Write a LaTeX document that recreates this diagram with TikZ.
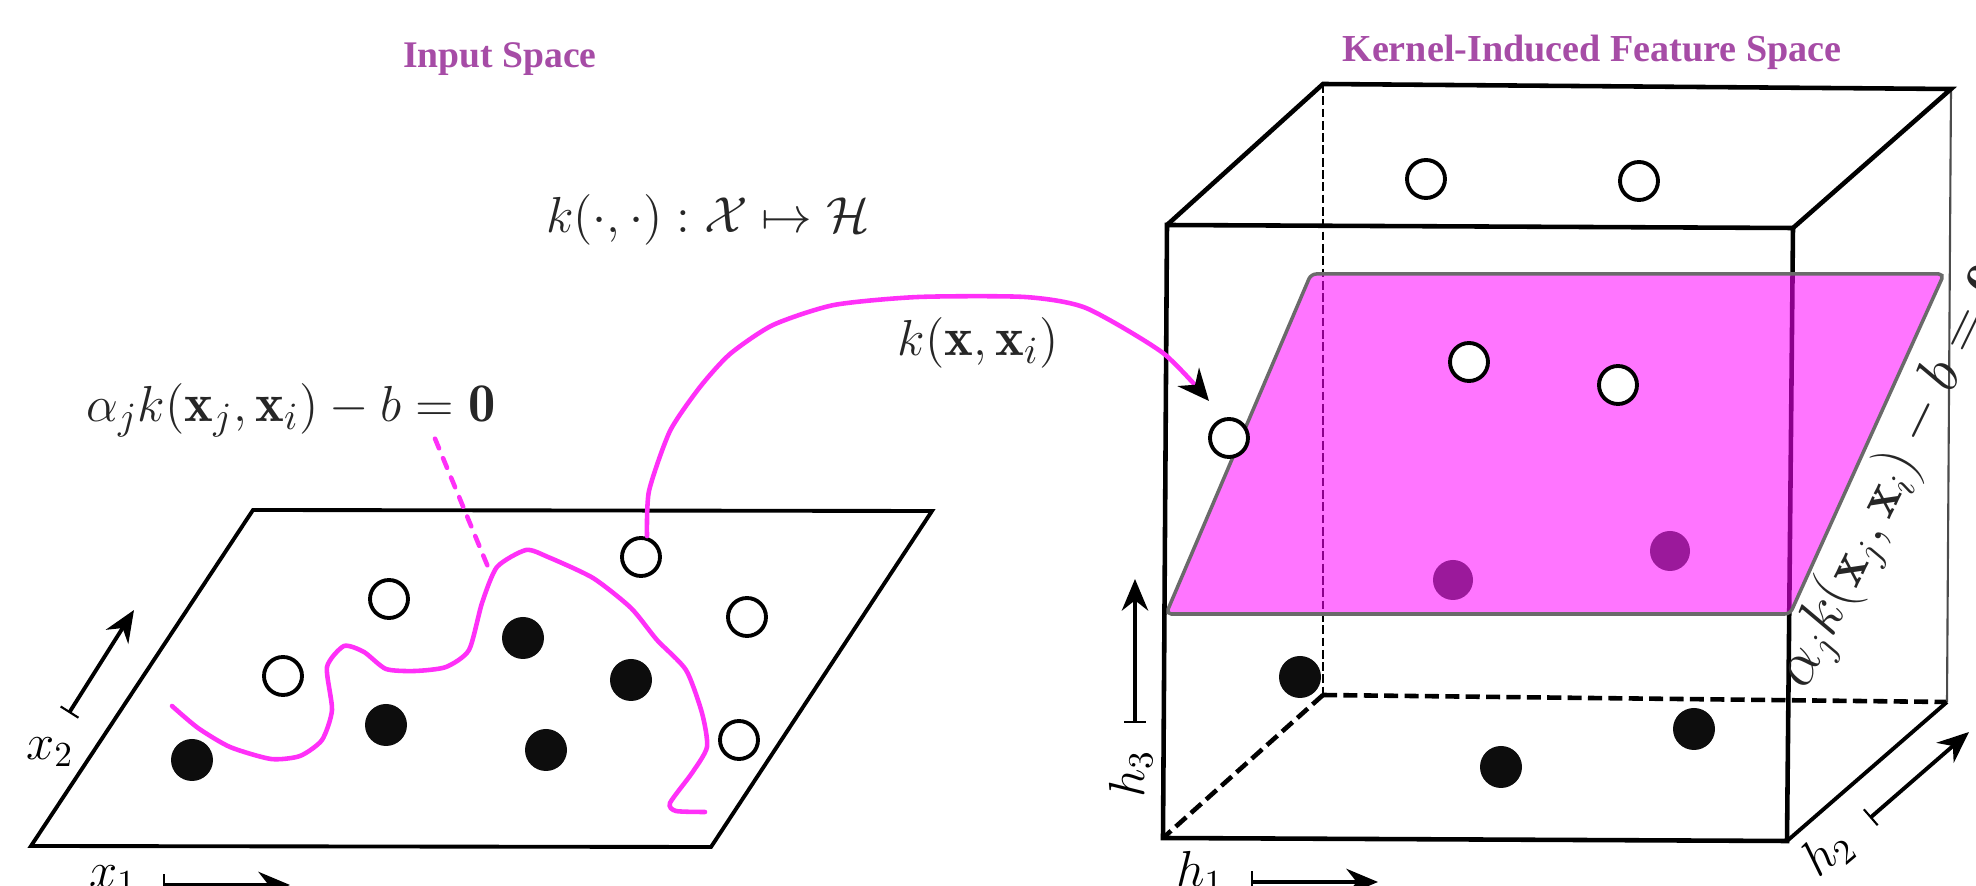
\documentclass[tikz,border=0pt]{standalone}
\usepackage{amsmath,amssymb,xcolor,fontspec}
\usetikzlibrary{arrows.meta}
\newfontfamily\titlefont{Liberation Serif}
\definecolor{titlepurple}{HTML}{A64CA6}
\definecolor{curvemag}{HTML}{FF30F8}
\definecolor{planemag}{RGB}{255,0,255}
\definecolor{planeedge}{HTML}{6A6A6A}
\definecolor{dimdot}{HTML}{9B199B}
\tikzset{
  opendot/.style={circle,draw=black,line width=1.1pt,fill=white,inner sep=0pt,minimum size=0.38cm},
  soliddot/.style={circle,fill=black!95,inner sep=0pt,minimum size=0.42cm},
  planedot/.style={circle,fill=dimdot,inner sep=0pt,minimum size=0.40cm},
  titlelabel/.style={text=titlepurple,font=\titlefont\bfseries\fontsize{10.7}{12}\selectfont},
  axislabel/.style={inner sep=0pt,font=\fontsize{14}{16}\selectfont},
  mathlabel/.style={inner sep=0pt,text=black!85,font=\fontsize{15.5}{18}\selectfont},
  axisarrow/.style={line width=1.1pt,{Bar[width=6pt,line width=0.6pt]}-{Stealth[length=9pt,width=7.5pt]}},
  kcurve/.style={curvemag,line width=1.3pt,line cap=round},
  backedge/.style={line width=1.3pt,dash pattern=on 4pt off 1.8pt},
}
\begin{document}
\begin{tikzpicture}[line width=1.1pt]
\useasboundingbox (0,0) rectangle (19.76,8.86);
% input plane
\draw (2.53,3.76)--(9.32,3.75)--(7.11,0.39)--(0.31,0.40)--cycle;
\node[opendot] (o1) at (6.41,3.29) {};
\node[opendot] (o2) at (3.89,2.87) {};
\node[opendot] (o3) at (2.83,2.10) {};
\node[opendot] (o4) at (7.47,2.69) {};
\node[opendot] (o5) at (7.39,1.46) {};
\node[soliddot] (f1) at (1.92,1.26) {};
\node[soliddot] (f2) at (3.86,1.61) {};
\node[soliddot] (f3) at (5.23,2.48) {};
\node[soliddot] (f4) at (6.31,2.06) {};
\node[soliddot] (f5) at (5.46,1.36) {};
\draw[kcurve] plot[smooth,tension=0.4] coordinates {(1.72,1.80) (1.98,1.58) (2.30,1.39) (2.71,1.27) (3.00,1.30) (3.22,1.46) (3.32,1.76) (3.27,2.19) (3.44,2.40) (3.64,2.34) (3.86,2.17) (4.15,2.15) (4.46,2.19) (4.69,2.36) (4.82,2.83) (4.97,3.19) (5.26,3.36) (5.48,3.29) (5.93,3.08) (6.31,2.78) (6.57,2.46) (6.86,2.16) (7.02,1.73) (7.07,1.39) (6.92,1.13) (6.70,0.83) (6.76,0.75) (7.05,0.74)};
\draw[axisarrow] (0.69,1.73)--(1.34,2.76);
\node[axislabel] (x2) at (0.50,1.34) {$x_2$};
\node[axislabel] (x1) at (1.13,0.06) {$x_1$};
\draw[axisarrow] (1.63,0.01)--(2.90,0.01);
% feature box
\draw[line width=0.5pt,dash pattern=on 2.5pt off 1pt] (13.23,8.02)--(13.23,1.91);
\draw[backedge] (13.23,1.91)--(19.47,1.84);
\draw[backedge] (13.23,1.91)--(11.63,0.48);
\draw[line width=0.6pt,black!70] (19.51,7.97)--(19.47,1.84);
\draw[line width=1.3pt] (11.67,6.61)--(13.23,8.02)--(19.51,7.97)--(17.93,6.58);
\draw[line width=1.3pt] (11.67,6.61)--(17.93,6.58)--(17.87,0.45)--(11.63,0.48)--cycle;
\draw[line width=1.1pt] (17.87,0.45)--(19.47,1.84);
\node[soliddot] (f6) at (13.00,2.09) {};
\node[soliddot] (f7) at (16.94,1.57) {};
\node[soliddot] (f8) at (15.01,1.19) {};
% separating plane
\draw[draw=planeedge,line width=1pt,fill=planemag,fill opacity=0.54,rounded corners=1.5pt] (13.11,6.12)--(19.44,6.12)--(17.90,2.72)--(11.66,2.72)--cycle;
\node[planedot] (p1) at (14.53,3.06) {};
\node[planedot] (p2) at (16.70,3.35) {};
\node[opendot] (o6) at (14.26,7.07) {};
\node[opendot] (o7) at (16.39,7.05) {};
\node[opendot] (o8) at (14.69,5.24) {};
\node[opendot] (o9) at (16.18,5.01) {};
\node[opendot] (o10) at (12.29,4.48) {};
\draw[axisarrow] (11.35,1.63)--(11.35,3.07);
\node[axislabel,rotate=90] (h3) at (11.31,1.12) {$h_3$};
\node[axislabel] (h1) at (12.00,0.13) {$h_1$};
\draw[axisarrow] (12.51,0.04)--(13.78,0.04);
\draw[axisarrow] (18.70,0.68)--(19.69,1.54);
\node[axislabel,rotate=40] (h2) at (18.28,0.33) {$h_2$};
% labels
\node[titlelabel] (inp) at (5.00,8.27) {Input Space};
\node[titlelabel,font=\titlefont\bfseries\fontsize{10.85}{12}\selectfont] (feat) at (15.92,8.34) {Kernel-Induced Feature Space};
\node[mathlabel,font=\fontsize{15.1}{18}\selectfont] (kmap) at (7.08,6.66) {$k(\cdot,\cdot):\mathcal{X}\mapsto\mathcal{H}$};
\node[mathlabel] (kx) at (9.78,5.43) {$k(\mathbf{x},\mathbf{x}_i)$};
\node[mathlabel] (hypl) at (2.91,4.76) {$\alpha_j k(\mathbf{x}_j,\mathbf{x}_i)-b=\mathbf{0}$};
\node[mathlabel,font=\fontsize{16.3}{18}\selectfont,rotate=64] (hypr) at (18.95,4.09) {$\alpha_j k(\mathbf{x}_j,\mathbf{x}_i)-b=\mathbf{0}$};
% connectors
\coordinate (hypend) at (4.88,3.19);
\coordinate (ktip) at (12.09,4.85);
\draw[kcurve,dashed] ([xshift=1.44cm]hypl.south)--(hypend);
\draw[kcurve,-{Stealth[black,length=9pt,width=8pt]}] plot[smooth,tension=0.4] coordinates {([xshift=0.06cm]o1.north) (6.49,3.95) (6.70,4.55) (7.00,4.99) (7.30,5.32) (7.73,5.61) (8.34,5.81) (9.18,5.89) (10.25,5.89) (10.86,5.78) (11.63,5.33) (ktip)};
\end{tikzpicture}
\end{document}
